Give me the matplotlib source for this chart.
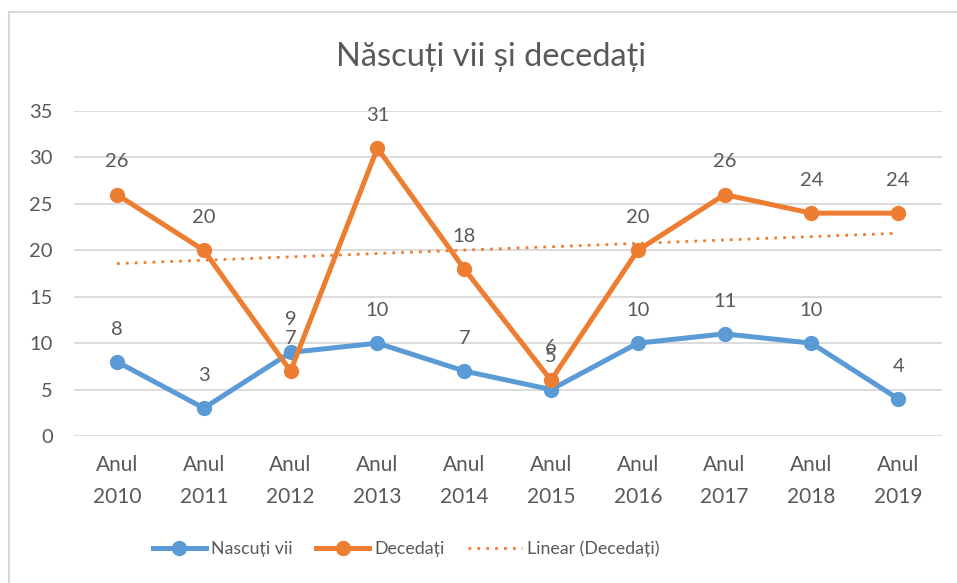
import matplotlib
matplotlib.use("Agg")
import matplotlib.pyplot as plt
from matplotlib.lines import Line2D
import numpy as np

plt.rcParams['font.family'] = ['Lato', 'DejaVu Sans']

categories = ["Anul\n2010", "Anul\n2011", "Anul\n2012", "Anul\n2013", "Anul\n2014",
              "Anul\n2015", "Anul\n2016", "Anul\n2017", "Anul\n2018", "Anul\n2019"]
nascuti = [8, 3, 9, 10, 7, 5, 10, 11, 10, 4]
decedati = [26, 20, 7, 31, 18, 6, 20, 26, 24, 24]
yticks = [0, 5, 10, 15, 20, 25, 30, 35]

BLUE = "#5B9BD5"
ORANGE = "#ED7D31"
TXT = "#595959"
GRID = "#D9D9D9"

fig = plt.figure(figsize=(9.57, 5.83), dpi=100)
# chart border
fig.patches.append(plt.Rectangle((9/957, -0.01), 1.0, 1 - 12/583 + 0.01,
                                 transform=fig.transFigure, fill=False,
                                 edgecolor="#D9D9D9", linewidth=1.5))

ax = fig.add_axes([73.6/957, 1 - 436/583, (941.6 - 73.6)/957, (436 - 111)/583])
x = np.arange(len(categories))

ax.set_xlim(-0.5, len(categories) - 0.5)
ax.set_ylim(0, 35)
ax.set_yticks(yticks)
ax.set_yticklabels([str(v) for v in yticks])
ax.set_xticks(x)
ax.set_xticklabels(categories, linespacing=1.7)
ax.yaxis.grid(True, color=GRID, linewidth=1.3)
ax.set_axisbelow(True)
for s in ax.spines.values():
    s.set_visible(False)
ax.xaxis.set_tick_params(length=0, pad=14, labelsize=15, labelcolor=TXT)
ax.yaxis.set_tick_params(length=0, pad=15, labelsize=14.5, labelcolor=TXT)

# trendline
coef = np.polyfit(x, decedati, 1)
trend = np.polyval(coef, x)
ax.plot(x, trend, color=ORANGE, linestyle=(0, (1, 2.2)), linewidth=2, zorder=2)

ax.plot(x, nascuti, color=BLUE, linewidth=3.6, marker='o', markersize=10,
        solid_capstyle='round', zorder=3)
ax.plot(x, decedati, color=ORANGE, linewidth=3.6, marker='o', markersize=10,
        solid_capstyle='round', zorder=4)

for xi, v in zip(x, nascuti):
    ax.annotate(str(v), (xi, v), xytext=(0, 23.5), textcoords='offset points',
                ha='center', va='center', fontsize=14.5, color=TXT)
for xi, v in zip(x, decedati):
    ax.annotate(str(v), (xi, v), xytext=(0, 23.5), textcoords='offset points',
                ha='center', va='center', fontsize=14.5, color=TXT)

fig.text(491/957, 1 - 57/583, "Născuți vii și decedați", ha='center', va='center',
         fontsize=23.5, color=TXT)

handles = [
    Line2D([], [], color=BLUE, linewidth=3.6, marker='o', markersize=10),
    Line2D([], [], color=ORANGE, linewidth=3.6, marker='o', markersize=10),
    Line2D([], [], color=ORANGE, linewidth=2, linestyle=(0, (1, 2.2))),
]
labels = ["Nascuți vii", "Decedați", "Linear (Decedați)"]
leg = fig.legend(handles, labels, loc='center', bbox_to_anchor=(406/957, 1 - 549/583),
                 ncol=3, frameon=False, fontsize=12.8, handlelength=3.0,
                 columnspacing=1.3, handletextpad=0.3)
for t in leg.get_texts():
    t.set_color(TXT)

fig.savefig("out.png", dpi=100)
